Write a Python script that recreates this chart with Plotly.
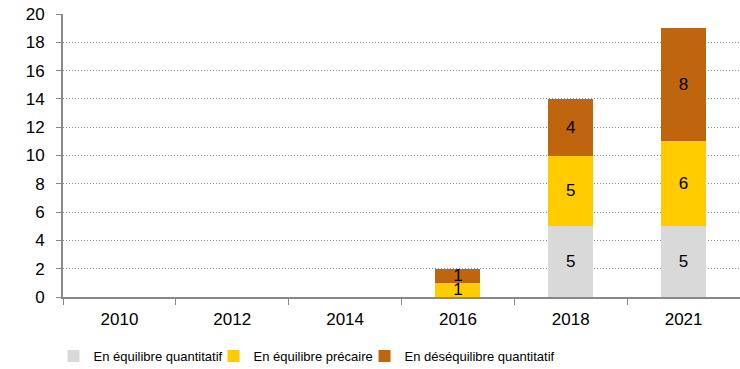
import plotly.graph_objects as go

years = ["2010", "2012", "2014", "2016", "2018", "2021"]
equilibre_quantitatif = [0, 0, 0, 0, 5, 5]
equilibre_precaire = [0, 0, 0, 1, 5, 6]
desequilibre_quantitatif = [0, 0, 0, 1, 4, 8]

series = [
    ("En équilibre quantitatif", equilibre_quantitatif, "#D9D9D9"),
    ("En équilibre précaire", equilibre_precaire, "#FFCC00"),
    ("En déséquilibre quantitatif", desequilibre_quantitatif, "#BF650D"),
]

FONT = "Liberation Sans, Arial"
legend_ids = ["legend", "legend2", "legend3"]
legend_x = [0.0723, 0.2885, 0.4926]

fig = go.Figure()
for (name, values, color), lid in zip(series, legend_ids):
    fig.add_trace(go.Bar(
        x=years,
        y=values,
        name=name,
        legend=lid,
        marker=dict(color=color, line=dict(width=0)),
        text=[str(v) if v else "" for v in values],
        textposition="inside",
        insidetextanchor="middle",
        textangle=0,
        constraintext="none",
        textfont=dict(family=FONT, size=17, color="black"),
        width=0.4,
    ))

legend_common = dict(
    orientation="h",
    xref="container",
    yref="container",
    xanchor="left",
    y=0.035,
    yanchor="middle",
    font=dict(family=FONT, size=13),
    itemwidth=30,
    bgcolor="rgba(0,0,0,0)",
)

fig.update_layout(
    barmode="stack",
    width=740,
    height=369,
    margin=dict(l=63, r=0, t=14, b=72, autoexpand=False),
    paper_bgcolor="white",
    plot_bgcolor="white",
    font=dict(family=FONT, size=17, color="black"),
    uniformtext=dict(minsize=17, mode="show"),
    showlegend=True,
    legend=dict(x=legend_x[0], **legend_common),
    legend2=dict(x=legend_x[1], **legend_common),
    legend3=dict(x=legend_x[2], **legend_common),
    xaxis=dict(
        type="category",
        tickson="boundaries",
        ticks="outside",
        ticklen=6,
        tickcolor="#898989",
        showline=True,
        linecolor="#898989",
        linewidth=2,
        showgrid=False,
        ticklabelstandoff=6,
        tickfont=dict(size=17),
    ),
    yaxis=dict(
        range=[0, 20],
        dtick=2,
        ticks="outside",
        ticklen=5,
        tickcolor="#898989",
        showline=True,
        linecolor="#898989",
        linewidth=2,
        showgrid=True,
        gridcolor="#8C8C8C",
        griddash="1px,2px",
        gridwidth=1,
        zeroline=False,
        ticklabelstandoff=8,
        tickfont=dict(size=17),
    ),
)

fig.write_html("out.html")
